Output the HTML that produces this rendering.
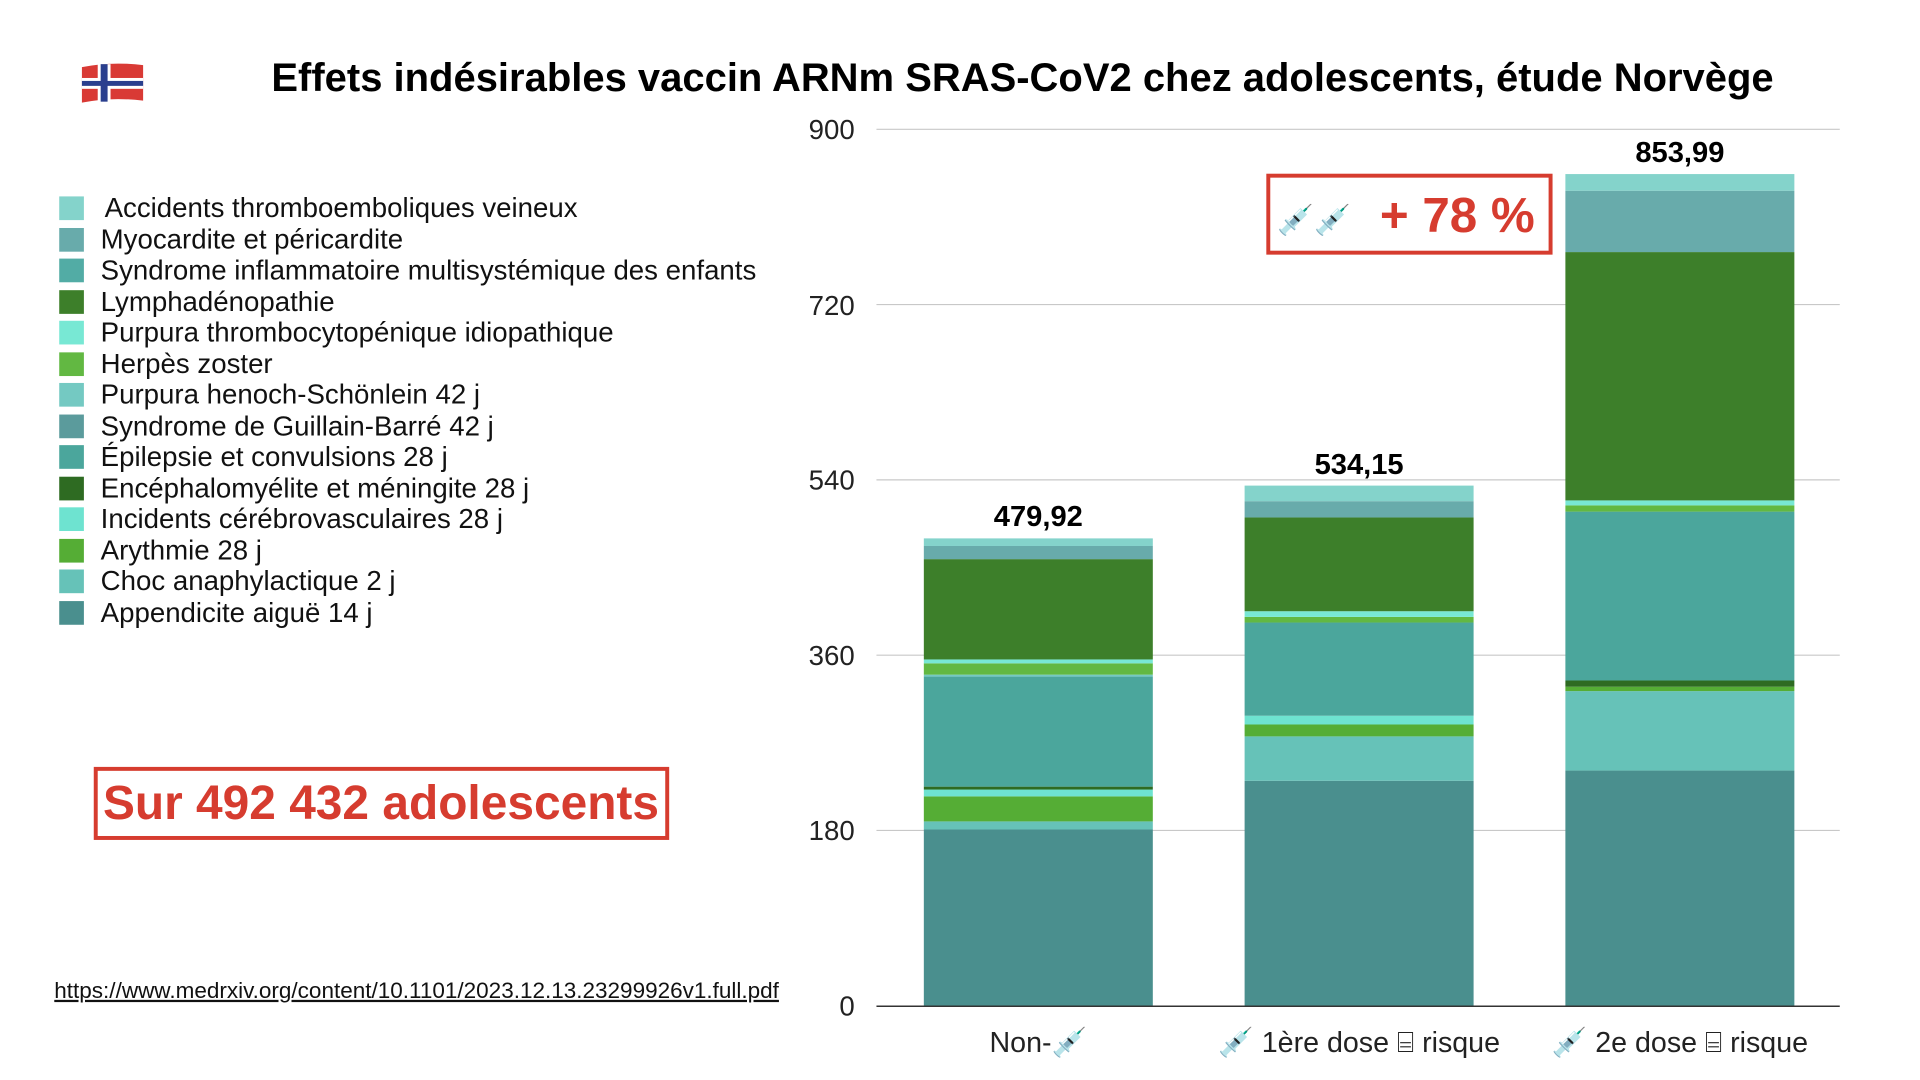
<!DOCTYPE html>
<html><head><meta charset="utf-8"><style>
html,body{margin:0;padding:0;background:#fff;}
svg{display:block;}
text{font-family:"Liberation Sans",Arial,sans-serif;}
</style></head><body>
<svg width="1920" height="1080" viewBox="0 0 1920 1080" xmlns="http://www.w3.org/2000/svg">
<rect width="1920" height="1080" fill="#fff"/>
<g transform="scale(0.987)">
<!-- flag -->
<g transform="translate(83,62)">
<path d="M0,6 Q30,0 62,4 L62,40 Q30,36 0,42 Z" fill="#d93a35"/>
<rect x="16" y="3" width="13" height="38" fill="#fff"/>
<rect x="0" y="17" width="62" height="11" fill="#fff"/>
<rect x="19" y="3" width="7" height="38" fill="#2a3f8e"/>
<rect x="0" y="20" width="62" height="5" fill="#2a3f8e"/>
</g>
<text x="1036" y="92" font-size="40.5" font-weight="bold" text-anchor="middle" fill="#000">Effets indésirables vaccin ARNm SRAS-CoV2 chez adolescents, étude Norvège</text>
<!-- grid -->
<g stroke="#c8c8c8" stroke-width="1.2">
<line x1="888" y1="131" x2="1864" y2="131"/>
<line x1="888" y1="308.6" x2="1864" y2="308.6"/>
<line x1="888" y1="486.2" x2="1864" y2="486.2"/>
<line x1="888" y1="663.8" x2="1864" y2="663.8"/>
<line x1="888" y1="841.4" x2="1864" y2="841.4"/>
</g>
<g font-size="28" text-anchor="end" fill="#222">
<text x="866" y="141">900</text>
<text x="866" y="319">720</text>
<text x="866" y="496">540</text>
<text x="866" y="674">360</text>
<text x="866" y="851">180</text>
<text x="866" y="1029">0</text>
</g>
<!-- bars -->
<g transform="translate(0,1019) scale(1,-0.9867)">
<g transform="translate(936,0)">
<rect y="0" width="232" height="181" fill="#4a8f8e"/>
<rect y="181" width="232" height="8.3" fill="#66c2b8"/>
<rect y="189.3" width="232" height="25.7" fill="#55ad35"/>
<rect y="215" width="232" height="7" fill="#6ee3d0"/>
<rect y="222" width="232" height="3" fill="#2e6b22"/>
<rect y="225" width="232" height="113" fill="#4ba69c"/>
<rect y="338" width="232" height="2" fill="#74c9c2"/>
<rect y="340" width="232" height="11.6" fill="#62b842"/>
<rect y="351.6" width="232" height="4" fill="#78e8d4"/>
<rect y="355.6" width="232" height="103" fill="#3d7f2a"/>
<rect y="458.6" width="232" height="13.5" fill="#68abab"/>
<rect y="472.1" width="232" height="7.8" fill="#84d3cb"/>
</g>
<g transform="translate(1261,0)">
<rect y="0" width="232" height="231" fill="#4a8f8e"/>
<rect y="231" width="232" height="45.6" fill="#66c2b8"/>
<rect y="276.6" width="232" height="12.2" fill="#55ad35"/>
<rect y="288.8" width="232" height="9" fill="#6ee3d0"/>
<rect y="297.8" width="232" height="95.7" fill="#4ba69c"/>
<rect y="393.5" width="232" height="5.8" fill="#62b842"/>
<rect y="399.3" width="232" height="5.8" fill="#78e8d4"/>
<rect y="405.1" width="232" height="96.3" fill="#3d7f2a"/>
<rect y="501.4" width="232" height="16.7" fill="#68abab"/>
<rect y="518.1" width="232" height="16" fill="#84d3cb"/>
</g>
<g transform="translate(1586,0)">
<rect y="0" width="232" height="241.5" fill="#4a8f8e"/>
<rect y="241.5" width="232" height="81.6" fill="#66c2b8"/>
<rect y="323.1" width="232" height="4.5" fill="#55ad35"/>
<rect y="327.6" width="232" height="6.4" fill="#2e6b22"/>
<rect y="334" width="232" height="173.4" fill="#4ba69c"/>
<rect y="507.4" width="232" height="6.4" fill="#62b842"/>
<rect y="513.8" width="232" height="5.1" fill="#78e8d4"/>
<rect y="518.9" width="232" height="255" fill="#3d7f2a"/>
<rect y="773.9" width="232" height="63" fill="#68abab"/>
<rect y="836.9" width="232" height="17.1" fill="#84d3cb"/>
</g>
</g>
<line x1="888" y1="1019.5" x2="1864" y2="1019.5" stroke="#333" stroke-width="1.5"/>
<g font-size="29.5" font-weight="bold" text-anchor="middle" fill="#000">
<text x="1052" y="533">479,92</text>
<text x="1377" y="480">534,15</text>
<text x="1702" y="164">853,99</text>
</g>
<g font-size="29" text-anchor="middle" fill="#222">
<text x="1052" y="1066">Non-💉</text>
<text x="1377" y="1066">💉 1ère dose ⌸ risque</text>
<text x="1702" y="1066">💉 2e dose ⌸ risque</text>
</g>
<!-- +78% box -->
<rect x="1285" y="178" width="286" height="78" fill="none" stroke="#d63c2f" stroke-width="4"/>
<text x="1294" y="233" font-size="30">💉💉</text>
<text x="1398" y="235" font-size="50" font-weight="bold" fill="#d63c2f">+ 78 %</text>
<!-- legend -->
<g font-size="28" fill="#111">
<rect x="60" y="199" width="25" height="24" fill="#84d3cb"/><text x="106" y="220">Accidents thromboemboliques veineux</text>
<rect x="60" y="231" width="25" height="24" fill="#68abab"/><text x="102" y="252">Myocardite et péricardite</text>
<rect x="60" y="262" width="25" height="24" fill="#52aca5"/><text x="102" y="283">Syndrome inflammatoire multisystémique des enfants</text>
<rect x="60" y="294" width="25" height="24" fill="#3d7f2a"/><text x="102" y="315">Lymphadénopathie</text>
<rect x="60" y="325" width="25" height="24" fill="#78e8d4"/><text x="102" y="346">Purpura thrombocytopénique idiopathique</text>
<rect x="60" y="357" width="25" height="24" fill="#62b842"/><text x="102" y="378">Herpès zoster</text>
<rect x="60" y="388" width="25" height="24" fill="#74c9c2"/><text x="102" y="409">Purpura henoch-Schönlein 42 j</text>
<rect x="60" y="420" width="25" height="24" fill="#5b9b9c"/><text x="102" y="441">Syndrome de Guillain-Barré 42 j</text>
<rect x="60" y="451" width="25" height="24" fill="#4ba69c"/><text x="102" y="472">Épilepsie et convulsions 28 j</text>
<rect x="60" y="483" width="25" height="24" fill="#2e6b22"/><text x="102" y="504">Encéphalomyélite et méningite 28 j</text>
<rect x="60" y="514" width="25" height="24" fill="#6ee3d0"/><text x="102" y="535">Incidents cérébrovasculaires 28 j</text>
<rect x="60" y="546" width="25" height="24" fill="#55ad35"/><text x="102" y="567">Arythmie 28 j</text>
<rect x="60" y="577" width="25" height="24" fill="#66c2b8"/><text x="102" y="598">Choc anaphylactique 2 j</text>
<rect x="60" y="609" width="25" height="24" fill="#4a8f8e"/><text x="102" y="630">Appendicite aiguë 14 j</text>
</g>
<rect x="97" y="779" width="579" height="70" fill="none" stroke="#d63c2f" stroke-width="4"/>
<text x="386" y="830" font-size="48.5" font-weight="bold" fill="#d63c2f" text-anchor="middle">Sur 492 432 adolescents</text>
<text x="55" y="1011" font-size="22.8" fill="#111" text-decoration="underline">https://www.medrxiv.org/content/10.1101/2023.12.13.23299926v1.full.pdf</text>
</g>
</svg>
</body></html>
